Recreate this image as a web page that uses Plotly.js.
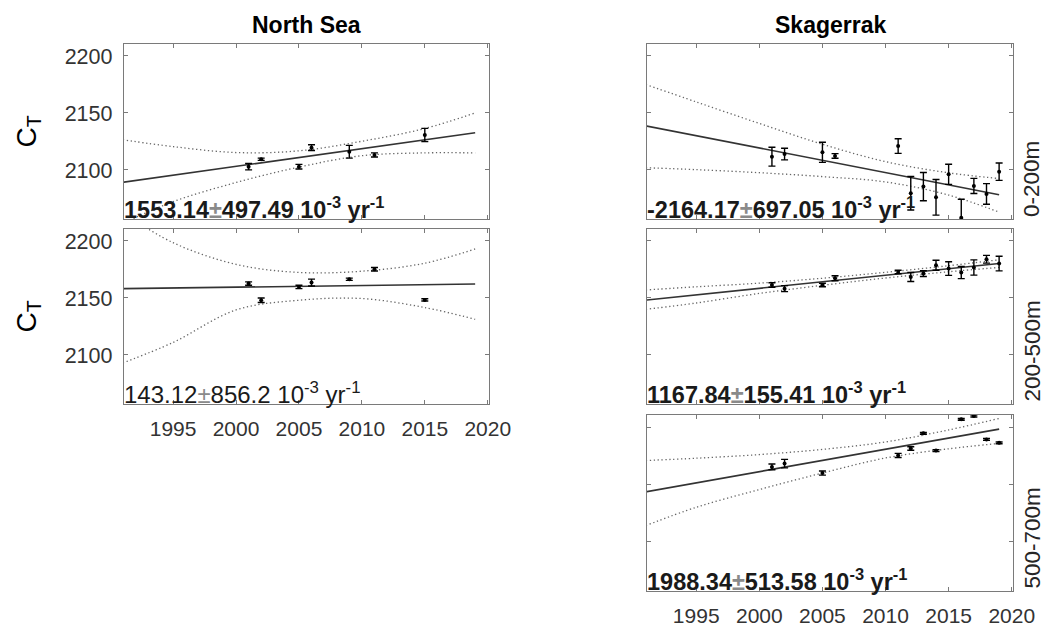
<!DOCTYPE html>
<html lang="en">
<head>
    <meta charset="UTF-8">
    <title>CT trends North Sea / Skagerrak</title>
    <script src="https://cdn.plot.ly/plotly-3.0.1.min.js"></script>
    <style>
        body { margin: 0; background: white; }
    </style>
</head>

<body>
<div id="plot"></div>

<script>

    // years shared by the fit lines and the confidence bands
    const fitYears = [1991, 2019]
    const bandYears = [1991, 1995, 2000, 2005, 2010, 2015, 2019]

    // North Sea, 0-200m
    const nsTopYears = [2001, 2002, 2005, 2006, 2009, 2011, 2015]
    const nsTopCt = [2102.9, 2109.4, 2102.9, 2119.6, 2116, 2113.2, 2130.7]
    const nsTopErr = [2.8, 1, 2, 2.5, 5.6, 1.8, 5.8]
    const nsTopFit = [2089.2, 2132.7]
    const nsTopUpper = [2126.5, 2120.5, 2115.3, 2116.8, 2125.2, 2136.4, 2150]
    const nsTopLower = [2053, 2072.2, 2089, 2102.5, 2112.5, 2115, 2115]

    // North Sea, 200-500m
    const nsMidYears = [2001, 2002, 2005, 2006, 2009, 2011, 2015]
    const nsMidCt = [2162.6, 2148, 2159.7, 2163.5, 2166.4, 2175.2, 2148.3]
    const nsMidErr = [1.5, 2, 1.5, 3, 1, 1.5, 1]
    const nsMidFit = [2158.2, 2162.2]
    const nsMidUpper = [2225, 2198.5, 2179.5, 2172.4, 2173.5, 2180.5, 2193]
    const nsMidLower = [2093, 2111, 2139.5, 2148, 2149.5, 2141.6, 2131.3]

    // Skagerrak, 0-200m
    const skTopYears = [2001, 2002, 2005, 2006, 2011, 2012, 2013, 2014, 2015, 2016, 2017, 2018, 2019]
    const skTopCt = [2111.7, 2114, 2115.5, 2112.3, 2121, 2079.6, 2085.4, 2076, 2096.2, 2058, 2086, 2079, 2098.5]
    const skTopErr = [8.3, 5.1, 8.8, 2, 6.4, 14.7, 12.4, 15.6, 8.8, 16.3, 6.6, 9, 7.6]
    const skTopFit = [2138.7, 2078.3]
    const skTopUpper = [2175, 2159.7, 2140.8, 2122.6, 2107.3, 2097.5, 2092.5]
    const skTopLower = [2102, 2100.3, 2097.6, 2094.2, 2089.5, 2078, 2063]

    // Skagerrak, 200-500m
    const skMidYears = [2001, 2002, 2005, 2006, 2011, 2012, 2013, 2014, 2015, 2016, 2017, 2018, 2019]
    const skMidCt = [2161.4, 2158.2, 2161.4, 2167.3, 2172.8, 2168.4, 2171.4, 2178.7, 2175.8, 2172.3, 2176.7, 2184, 2180.2]
    const skMidErr = [2, 2.6, 1.5, 2.2, 1.5, 3.9, 2.5, 4.4, 6, 5.3, 6.7, 3.4, 6.4]
    const skMidFit = [2148.1, 2180.3]
    const skMidUpper = [2157, 2159.8, 2163, 2167.3, 2172.5, 2178.3, 2183.5]
    const skMidLower = [2140, 2145.6, 2154, 2161.1, 2167.5, 2173, 2176.8]

    // Skagerrak, 500-700m
    const skBotYears = [2001, 2002, 2005, 2011, 2012, 2013, 2014, 2016, 2017, 2018, 2019]
    const skBotCt = [2165.2, 2168.1, 2159.9, 2175.2, 2181.3, 2194.5, 2179.5, 2206.7, 2209.6, 2189.2, 2186.2]
    const skBotErr = [2.5, 3.7, 1.8, 1.8, 1.5, 0.8, 0.8, 0.8, 0.8, 0.8, 0.8]
    const skBotFit = [2143.5, 2198.2]
    const skBotUpper = [2170.8, 2172.8, 2176, 2180.5, 2187, 2197.5, 2207.5]
    const skBotLower = [2114, 2130, 2145.5, 2159.9, 2173, 2181, 2185.7]

    const xTicks = [1995, 2000, 2005, 2010, 2015, 2020]
    const yTicks = [2100, 2150, 2200]
    const depthLabels = ['0-200m', '200-500m', '500-700m']
    const pm = '<span style="color:#8a8a8a">±</span>'
    const slopeLabels = [
        '<b>1553.14' + pm + '497.49 10<sup>-3</sup> yr<sup>-1</sup></b>',
        '143.12' + pm + '856.2 10<sup>-3</sup> yr<sup>-1</sup>',
        '<b>-2164.17' + pm + '697.05 10<sup>-3</sup> yr<sup>-1</sup></b>',
        '<b>1167.84' + pm + '155.41 10<sup>-3</sup> yr<sup>-1</sup></b>',
        '<b>1988.34' + pm + '513.58 10<sup>-3</sup> yr<sup>-1</sup></b>'
    ]

    const W = 1046, H = 626
    const font = 'Liberation Sans, Arial, sans-serif'
    const axisGrey = '#7a7a7a'

    // panel boxes in pixels of the picture
    const colLeft = [[124, 489], [647, 1013]]
    const rowBox = [[44, 219], [229, 404], [415, 591]]
    const px2x = (a, b) => [a / W, b / W]
    const px2y = (top, bottom) => [1 - bottom / H, 1 - top / H]

    const panels = [
        {col: 0, row: 0, years: nsTopYears, ct: nsTopCt, err: nsTopErr, fit: nsTopFit, up: nsTopUpper, lo: nsTopLower, xLabels: false, yLabels: true},
        {col: 0, row: 1, years: nsMidYears, ct: nsMidCt, err: nsMidErr, fit: nsMidFit, up: nsMidUpper, lo: nsMidLower, xLabels: true, yLabels: true},
        {col: 1, row: 0, years: skTopYears, ct: skTopCt, err: skTopErr, fit: skTopFit, up: skTopUpper, lo: skTopLower, xLabels: false, yLabels: false},
        {col: 1, row: 1, years: skMidYears, ct: skMidCt, err: skMidErr, fit: skMidFit, up: skMidUpper, lo: skMidLower, xLabels: false, yLabels: false},
        {col: 1, row: 2, years: skBotYears, ct: skBotCt, err: skBotErr, fit: skBotFit, up: skBotUpper, lo: skBotLower, xLabels: true, yLabels: false}
    ]

    const data = []
    const layout = {
        width: W,
        height: H,
        margin: {l: 0, r: 0, t: 0, b: 0},
        paper_bgcolor: 'white',
        plot_bgcolor: 'white',
        showlegend: false,
        font: {family: font, color: '#262626'},
        annotations: []
    }

    panels.forEach((p, i) => {
        const n = i === 0 ? '' : String(i + 1)
        const xa = 'x' + n, ya = 'y' + n

        // confidence bands, fine dotted
        const band = {
            x: bandYears,
            type: 'scatter',
            mode: 'lines',
            line: {color: '#666', width: 1.3, dash: '1.3px,2.6px', shape: 'spline', smoothing: 1},
            xaxis: xa, yaxis: ya, hoverinfo: 'skip'
        }
        data.push(Object.assign({}, band, {y: p.up}))
        data.push(Object.assign({}, band, {y: p.lo}))
        data.push({
            x: fitYears, y: p.fit,
            type: 'scatter', mode: 'lines',
            line: {color: '#333', width: 1.6},
            xaxis: xa, yaxis: ya
        })
        data.push({
            x: p.years, y: p.ct,
            type: 'scatter', mode: 'markers',
            marker: {color: 'black', size: 4},
            error_y: {type: 'data', array: p.err, visible: true, color: 'black', thickness: 1.4, width: 3.5},
            xaxis: xa, yaxis: ya
        })

        const [l, r] = colLeft[p.col]
        const [t, b] = rowBox[p.row]
        layout['xaxis' + n] = {
            domain: px2x(l, r),
            anchor: ya,
            range: [1991.1, 2020.1],
            tickvals: xTicks,
            showticklabels: p.xLabels,
            ticks: 'inside', ticklen: 4, tickcolor: axisGrey,
            showline: true, linecolor: axisGrey, linewidth: 1.2, mirror: 'ticks',
            showgrid: false, zeroline: false,
            tickfont: {size: 21, color: '#333'},
            ticklabelstandoff: 6
        }
        layout['yaxis' + n] = {
            domain: px2y(t, b),
            anchor: xa,
            range: [2057, 2210.5],
            tickvals: yTicks,
            showticklabels: p.yLabels,
            ticks: 'inside', ticklen: 4, tickcolor: axisGrey,
            showline: true, linecolor: axisGrey, linewidth: 1.2, mirror: 'ticks',
            showgrid: false, zeroline: false,
            tickfont: {size: 21.5, color: '#333'},
            ticklabelstandoff: 6
        }

        // slope text in the lower left corner
        layout.annotations.push({
            xref: xa + ' domain', yref: ya + ' domain',
            x: 0, y: 0, xanchor: 'left', yanchor: 'bottom',
            yshift: -6, xshift: -2,
            text: slopeLabels[i], showarrow: false,
            font: {size: p.row === 1 && p.col === 0 ? 24 : 23.5, color: '#1a1a1a'}
        })

        if (p.col === 0) {
            layout.annotations.push({
                xref: 'paper', yref: ya + ' domain',
                x: 28 / W, y: 0.5, xanchor: 'center', yanchor: 'middle',
                text: 'C<sub>T</sub>', textangle: -90, showarrow: false,
                font: {size: 28, color: 'black'}
            })
        } else {
            layout.annotations.push({
                xref: 'paper', yref: ya + ' domain',
                x: 1032 / W, y: 0, xanchor: 'center', yanchor: 'bottom',
                text: depthLabels[p.row], textangle: -90, showarrow: false,
                font: {size: 22.5, color: '#262626'}
            })
        }
    })

    // column titles
    layout.annotations.push({
        xref: 'x domain', yref: 'y domain', x: 0.5, y: 1,
        xanchor: 'center', yanchor: 'bottom', yshift: 4,
        text: '<b>North Sea</b>', showarrow: false, font: {size: 23, color: 'black'}
    })
    layout.annotations.push({
        xref: 'x3 domain', yref: 'y3 domain', x: 0.5, y: 1,
        xanchor: 'center', yanchor: 'bottom', yshift: 4,
        text: '<b>Skagerrak</b>', showarrow: false, font: {size: 23, color: 'black'}
    })

    Plotly.newPlot('plot', data, layout, {staticPlot: true})

</script>

</body>
</html>
